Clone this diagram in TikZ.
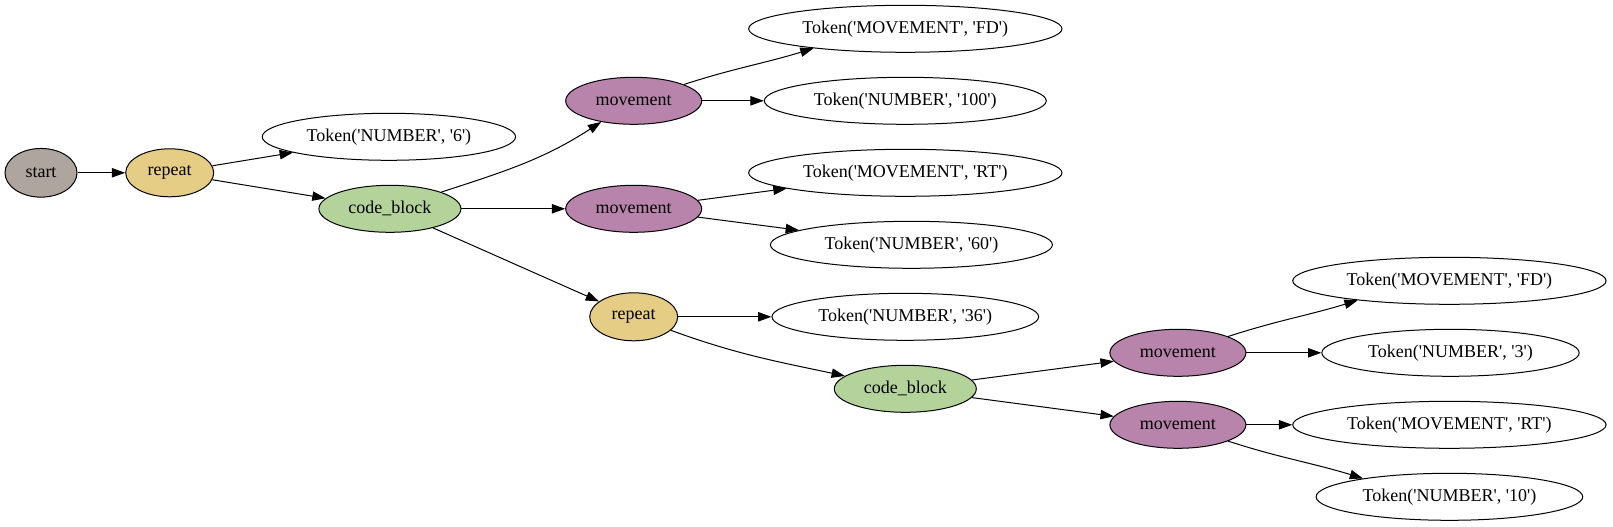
\documentclass[tikz,border=0pt]{standalone}
\usepackage{fontspec}
\setmainfont{Liberation Serif}[Ligatures=TeXOff]
\usetikzlibrary{shapes.geometric,arrows.meta}
\definecolor{cstart}{HTML}{ADA59E}
\definecolor{crepeat}{HTML}{E5CD86}
\definecolor{cblock}{HTML}{B3D39B}
\definecolor{cmove}{HTML}{B884AC}
\tikzset{
  el/.style={ellipse, draw, line width=0.75pt, inner sep=0pt, font=\fontsize{13.5}{16}\selectfont},
  gstart/.style={el, fill=cstart, minimum width=54pt, minimum height=36.5pt},
  grepeat/.style={el, fill=crepeat, minimum width=66pt, minimum height=36pt},
  gblock/.style={el, fill=cblock, minimum width=106.5pt, minimum height=35.25pt},
  gmove/.style={el, fill=cmove, minimum width=102pt, minimum height=35.25pt},
  tok/.style={el, fill=white, minimum height=35.25pt},
  edge/.style={draw, line width=0.75pt, -{Triangle[length=10pt,width=7pt]}}
}
\begin{document}
\begin{tikzpicture}[x=0.75pt,y=0.75pt]
\useasboundingbox (0,0) rectangle (1613,-527);
\node[gstart] (start) at (41,-172.8) {start};
\node[grepeat] (rep1) at (169.7,-172.8) {repeat};
\node[tok, minimum width=190pt] (t6) at (388.9,-136.8) {Token('NUMBER', '6')};
\node[gblock] (cb1) at (389.9,-208.8) {code\_block};
\node[gmove] (mv1) at (633.7,-100.8) {movement};
\node[tok, minimum width=235pt] (fd1) at (905.3,-28.8) {Token('MOVEMENT', 'FD')};
\node[tok, minimum width=211.5pt] (n100) at (905.3,-100.8) {Token('NUMBER', '100')};
\node[gmove] (mv2) at (633.7,-208.8) {movement};
\node[tok, minimum width=235pt] (rt1) at (905.3,-172.8) {Token('MOVEMENT', 'RT')};
\node[tok, minimum width=211.5pt] (n60) at (911.4,-244.8) {Token('NUMBER', '60')};
\node[grepeat] (rep2) at (633.7,-316.8) {repeat};
\node[tok, minimum width=200pt] (n36) at (905.3,-316.8) {Token('NUMBER', '36')};
\node[gblock] (cb2) at (905.3,-388.8) {code\_block};
\node[gmove] (mv3) at (1177.9,-352.8) {movement};
\node[tok, minimum width=235pt] (fd2) at (1449.4,-280.8) {Token('MOVEMENT', 'FD')};
\node[tok, minimum width=193pt] (n3) at (1450.5,-352.8) {Token('NUMBER', '3')};
\node[gmove] (mv4) at (1177.9,-424.8) {movement};
\node[tok, minimum width=235pt] (rt2) at (1449.4,-424.8) {Token('MOVEMENT', 'RT')};
\node[tok, minimum width=200pt] (n10) at (1449.4,-496.8) {Token('NUMBER', '10')};

\draw[edge] (start) -- (rep1);
\draw[edge] (rep1) -- (t6);
\draw[edge] (rep1) -- (cb1);
\draw[edge] (cb1) to[out=18,in=213] (mv1);
\draw[edge] (cb1) -- (mv2);
\draw[edge] (cb1) -- (rep2);
\draw[edge] (mv1.18) to[out=18,in=197] (fd1.192);
\draw[edge] (mv1) -- (n100);
\draw[edge] (mv2) -- (rt1);
\draw[edge] (mv2) -- (n60);
\draw[edge] (rep2) -- (n36);
\draw[edge] (rep2) to[out=-20,in=168] (cb2);
\draw[edge] (cb2) -- (mv3);
\draw[edge] (cb2) -- (mv4);
\draw[edge] (mv3.18) to[out=18,in=197] (fd2.192);
\draw[edge] (mv3) -- (n3);
\draw[edge] (mv4) -- (rt2);
\draw[edge] (mv4.-18) to[out=-18,in=163] (n10.168);
\end{tikzpicture}
\end{document}
